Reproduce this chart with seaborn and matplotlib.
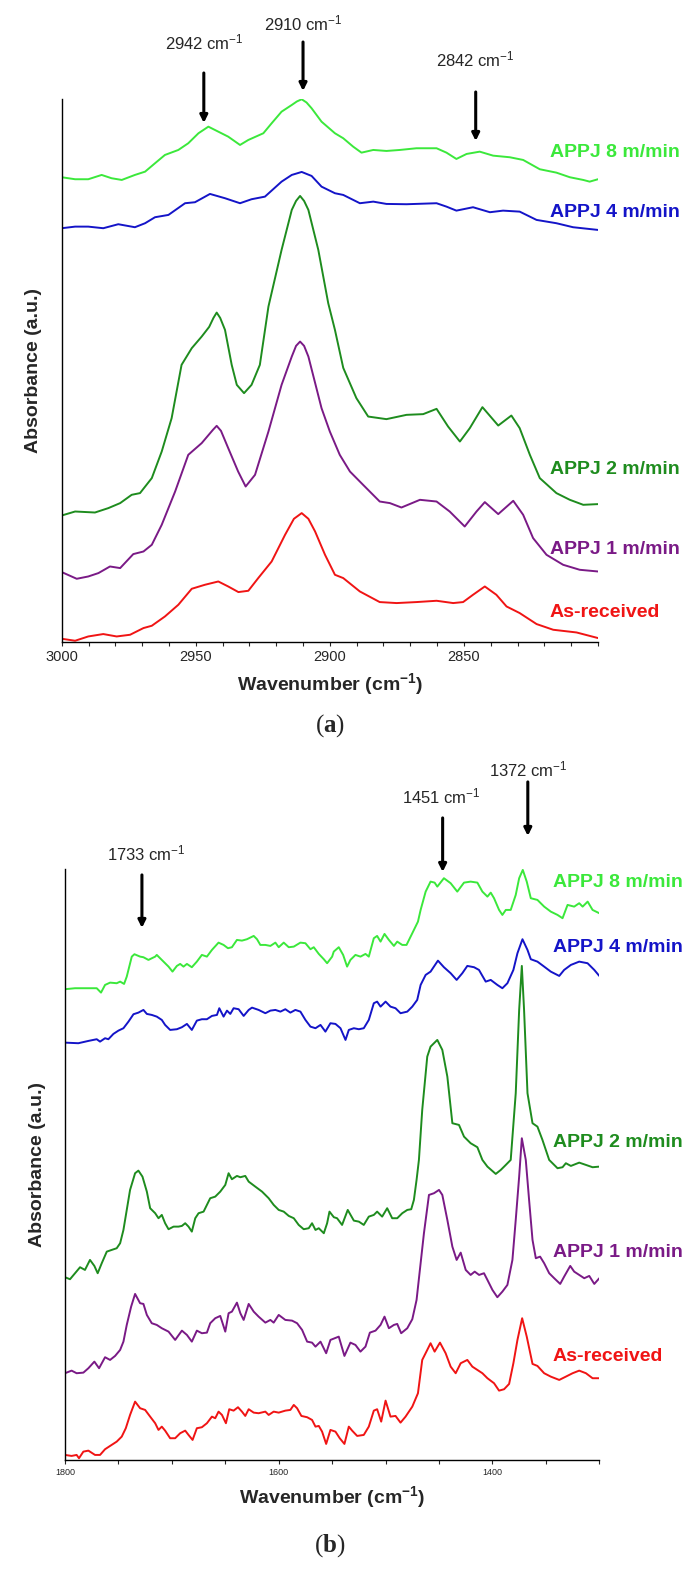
import matplotlib
matplotlib.use("Agg")
import matplotlib.pyplot as plt
import pandas as pd
import seaborn as sns

# ---------------- panel (a): 3000-2800 cm-1 ----------------
a_labels = ["APPJ 8 m/min", "APPJ 4 m/min", "APPJ 2 m/min", "APPJ 1 m/min", "As-received"]

a8_x = [3000, 2995.0, 2990.1, 2985.1, 2981.4, 2977.6, 2972.7, 2968.9, 2965.2, 2961.5, 2956.5, 2952.8, 2949.0,
        2945.3, 2941.6, 2937.9, 2933.5, 2930.4, 2924.8, 2921.7, 2918.0, 2914.2, 2912.3, 2910.5, 2908.7, 2906.8,
        2903.1, 2898.1, 2895.0, 2891.3, 2888.2, 2883.8, 2878.9, 2873.9, 2867.7, 2860.2, 2856.5, 2852.8, 2849.0,
        2844.1, 2839.1, 2832.9, 2827.9, 2821.7, 2815.5, 2810.5, 2805.5, 2803.1, 2800]
a8_y = [464.7, 462.7, 462.7, 467, 463.7, 462, 467, 470.3, 478.7, 487, 492, 498.7, 508.7,
        515.3, 510.3, 505.3, 497, 502, 508.7, 518.7, 530.3, 537, 540.5, 542.7, 539.5, 533.7,
        520.3, 508.7, 503.7, 495.3, 489.3, 492, 491, 492, 493.7, 493.7, 489.3, 483, 488,
        490.3, 486.3, 484.7, 482, 472.7, 469.3, 464.7, 462, 460.3, 462.7]

a4_x = [3000, 2995.0, 2990.1, 2984.5, 2978.9, 2972.7, 2968.9, 2965.2, 2960.2, 2954.0, 2950.3, 2944.7, 2939.1,
        2933.5, 2929.2, 2924.2, 2918.0, 2914.2, 2910.5, 2906.8, 2903.1, 2898.1, 2895.0, 2888.8, 2883.8, 2878.9,
        2871.4, 2860.2, 2856.5, 2852.8, 2846.6, 2840.3, 2835.4, 2829.2, 2822.9, 2815.5, 2809.3, 2800]
a4_y = [413.7, 415.3, 415.3, 413.7, 417.7, 414.7, 418.7, 424.7, 427, 438.7, 439.7, 448, 443.7,
        438.7, 442.7, 445.3, 460.3, 467, 470, 466, 455.3, 448.7, 447, 438.7, 440.3, 438,
        437.7, 438.7, 435.3, 431.3, 434.7, 429.7, 431.3, 430.3, 422, 418.7, 414.7, 412]

a2_x = [3000, 2995.0, 2987.6, 2982.6, 2978.2, 2973.9, 2970.8, 2966.4, 2962.7, 2959.0, 2955.3, 2951.5, 2947.8,
        2945.0, 2943.4, 2942.2, 2940.9, 2939.1, 2936.6, 2934.7, 2932.0, 2929.2, 2926.1, 2922.9, 2918.0, 2914.2,
        2912.6, 2911.1, 2909.6, 2908.0, 2904.3, 2900.6, 2898.1, 2895.0, 2890.1, 2885.7, 2878.9, 2871.4, 2865.2,
        2860.2, 2855.9, 2851.5, 2847.8, 2843.1, 2837.2, 2832.3, 2829.2, 2825.4, 2821.7, 2815.5, 2810.5, 2805.5,
        2800]
a2_y = [126.3, 130.3, 129.3, 133.7, 138.7, 147, 148.7, 163.7, 190.3, 223.7, 277, 293.7, 305.3,
        315, 324, 329.3, 324, 312, 277, 257, 248.7, 257, 277, 335.3, 392, 432,
        441, 446, 441, 432, 392, 338.7, 312, 274, 243.7, 225.3, 222.7, 227, 227.7,
        233, 215.3, 200.3, 213.7, 234.7, 216.3, 226.3, 213.7, 187, 163.7, 148.7, 142, 137,
        137.7]

a1_x = [3000, 2994.4, 2990.1, 2986.3, 2982.0, 2978.2, 2973.3, 2969.5, 2966.4, 2962.7, 2957.7, 2952.8, 2947.8,
        2943.6, 2942.2, 2940.6, 2937.9, 2934.2, 2931.4, 2927.9, 2922.9, 2918.0, 2914.2, 2912.6, 2911.1, 2909.6,
        2908.0, 2903.1, 2900.0, 2896.3, 2892.5, 2887.6, 2881.4, 2877.6, 2873.3, 2866.4, 2860.2, 2855.3, 2849.7,
        2845.3, 2842.2, 2837.2, 2831.6, 2827.9, 2824.2, 2819.2, 2813.0, 2806.8, 2800]
a1_y = [69.7, 63, 65.3, 68.7, 75.3, 73.7, 87.7, 90.3, 97, 117, 150.3, 187, 198.7,
        212, 216, 211, 193.7, 170.3, 155.3, 167, 210.3, 257, 285.3, 296, 300.3, 296,
        285.3, 233.7, 210.3, 187, 170.3, 157, 140.3, 138.7, 134.3, 142, 140.3, 130.3, 115.3,
        130.3, 139.7, 127.7, 141, 127, 103.7, 87, 77, 72, 70.3]

ar_x = [3000, 2995.0, 2990.1, 2984.5, 2979.5, 2974.5, 2969.5, 2966.4, 2961.5, 2956.5, 2951.5, 2946.6, 2941.6,
        2937.9, 2934.1, 2930.4, 2926.7, 2921.7, 2916.7, 2913.4, 2910.5, 2908.0, 2905.5, 2901.8, 2898.1, 2895.0,
        2888.8, 2881.4, 2875.1, 2867.7, 2860.2, 2854.0, 2850.3, 2846.6, 2842.2, 2837.9, 2834.1, 2829.2, 2822.9,
        2816.7, 2808.0, 2800]
ar_y = [3, 1, 5.3, 7.7, 5.3, 7, 13.7, 16, 25.3, 37, 53, 57, 60.3,
        55.3, 49.7, 51, 63.7, 80.3, 107, 123, 128.7, 123, 110.3, 87, 67, 63.7,
        50.3, 39.7, 38.7, 39.7, 41, 38.7, 39.7, 47, 55.3, 47, 35.3, 28.7, 17.7,
        12, 9.3, 3.7]

a_label_y = [489, 429, 172, 92, 29]
a_peaks = ["2942", "2910", "2842"]
a_arrow_x = [2947.0, 2910.0, 2845.6]
a_arrow_top = [569, 600, 550]
a_arrow_tip = [519, 551, 501]
a_text_y = [600, 619, 583]

# ---------------- panel (b): 1800-1300 cm-1 ----------------
b8_x = [1800, 1790.6, 1781.3, 1770.3, 1766.3, 1762.5, 1757.8, 1751.6, 1748.4, 1744.7, 1742.2, 1737.5, 1735.0,
        1729.7, 1726.6, 1721.9, 1715.6, 1714.1, 1707.8, 1703.1, 1699.4, 1695.3, 1692.2, 1689.1, 1685.9, 1681.3,
        1676.6, 1671.9, 1667.2, 1662.5, 1656.3, 1651.6, 1647.5, 1643.8, 1639.1, 1634.4, 1629.7, 1623.4, 1620.3,
        1617.2, 1612.5, 1607.8, 1603.1, 1600.0, 1595.3, 1590.6, 1585.9, 1579.7, 1575.0, 1570.3, 1567.2, 1562.5,
        1557.8, 1554.7, 1550.0, 1548.5, 1543.8, 1539.7, 1536.0, 1532.9, 1528.2, 1523.5, 1518.8, 1515.7, 1511.0,
        1507.9, 1504.7, 1501.0, 1496.9, 1492.2, 1489.1, 1484.4, 1480.4, 1475.0, 1469.7, 1467.2, 1462.5, 1457.9,
        1454.1, 1451.6, 1445.4, 1439.1, 1432.9, 1426.6, 1420.4, 1414.1, 1409.4, 1404.7, 1401.6, 1398.5, 1393.8,
        1390.7, 1387.5, 1382.9, 1378.2, 1375.0, 1371.6, 1367.9, 1364.1, 1357.9, 1351.6, 1345.4, 1339.1, 1334.4,
        1329.7, 1323.5, 1318.8, 1315.6, 1310.9, 1306.3, 1300.0]
b8_y = [470.7, 471.7, 471.7, 471.7, 467.3, 475, 477.3, 476.7, 478.3, 476, 483.3, 503.3, 505.7,
        503.3, 502.7, 500, 503.3, 505, 498.3, 493.3, 488.3, 494, 496, 493.3, 496, 492.7,
        498.3, 505, 503.3, 510, 517.3, 515, 511.7, 512.7, 520, 519.3, 520.7, 524, 520.7,
        515, 515, 514, 517.3, 512.7, 517.3, 512.7, 513.3, 517.3, 516.7, 510.7, 512.7, 506,
        500.7, 496.7, 503.3, 508.3, 512.7, 505, 493.3, 500, 505, 503.3, 506, 503.3, 521.7,
        524, 518.3, 526, 520, 514, 518.3, 515, 515, 526.7, 538.3, 550, 568.3, 578.3,
        577.3, 573.3, 581.7, 576.7, 568.3, 577.3, 578.3, 577.3, 568.3, 563.3, 567.3, 561.7, 550,
        545, 550, 550, 565, 581.7, 590, 578.3, 561.7, 560, 553.3, 548.3, 545, 541.7,
        555, 553.3, 556.7, 553.3, 558.3, 550, 546.7]

b4_x = [1800, 1787.5, 1778.1, 1770.3, 1767.2, 1762.5, 1759.4, 1754.7, 1750.0, 1745.3, 1740.6, 1735.9, 1731.3,
        1726.6, 1723.4, 1718.8, 1714.1, 1709.4, 1706.3, 1701.6, 1695.3, 1690.6, 1685.9, 1681.3, 1676.6, 1671.9,
        1667.2, 1662.5, 1657.8, 1655.6, 1651.6, 1648.4, 1645.3, 1642.2, 1637.5, 1632.8, 1628.1, 1625.0, 1618.8,
        1612.5, 1607.8, 1603.1, 1598.4, 1593.8, 1589.1, 1584.4, 1579.7, 1575.0, 1570.3, 1565.6, 1560.9, 1556.3,
        1551.6, 1546.9, 1542.2, 1537.5, 1534.4, 1529.7, 1525.0, 1520.4, 1515.7, 1511.0, 1507.9, 1504.7, 1500.0,
        1495.4, 1490.7, 1486.0, 1479.7, 1475.0, 1470.4, 1467.2, 1462.5, 1457.9, 1451.0, 1445.4, 1439.1, 1433.5,
        1428.2, 1423.5, 1417.2, 1412.6, 1406.3, 1401.6, 1395.4, 1390.7, 1386.0, 1380.4, 1376.6, 1371.9, 1367.2,
        1364.1, 1357.9, 1351.6, 1345.4, 1337.5, 1332.9, 1326.6, 1318.8, 1311.0, 1304.7, 1300.0]
b4_y = [417.3, 416.7, 419, 420.7, 418.3, 421.7, 420.7, 426, 429.3, 431.7, 438.3, 445.7, 447.3,
        450, 446, 445, 443.3, 440, 435, 430, 430.7, 432.7, 436, 430, 439.3, 440.7,
        440.7, 444, 445, 451.7, 443.3, 449.3, 446, 451.7, 450.7, 444, 450, 452.3, 450,
        446.7, 449.3, 450, 448.3, 450.7, 447.3, 450, 448.3, 440, 433.3, 431.7, 435, 428.3,
        436.7, 436, 431.7, 420, 430, 431.7, 430.7, 431.7, 440, 456.7, 458.3, 453.3, 458.3,
        453.3, 451.7, 446.7, 448.3, 453.3, 460, 475, 485, 488.3, 499.3, 492.7, 486.7, 480,
        486.7, 494, 492.7, 490, 478.3, 480, 475, 471.7, 476.7, 490, 506.7, 520.7, 510,
        500.7, 498.3, 493.3, 488.3, 484, 490, 495, 498.3, 496.7, 490, 484]

b2_x = [1800, 1795.3, 1790.6, 1785.9, 1781.3, 1776.6, 1772.5, 1769.4, 1765.6, 1760.9, 1756.3, 1751.6, 1748.4,
        1745.3, 1742.2, 1739.1, 1734.4, 1731.3, 1727.5, 1723.4, 1720.3, 1715.6, 1712.5, 1709.4, 1706.3, 1703.1,
        1698.4, 1693.8, 1690.6, 1687.5, 1684.4, 1681.3, 1678.1, 1675.0, 1670.3, 1667.2, 1664.1, 1659.4, 1654.7,
        1650.0, 1646.9, 1643.8, 1639.1, 1635.9, 1631.3, 1628.1, 1621.9, 1615.6, 1609.4, 1604.7, 1600.0, 1595.3,
        1590.6, 1585.9, 1581.3, 1576.6, 1571.9, 1568.8, 1565.6, 1562.5, 1557.8, 1554.7, 1552.5, 1548.4, 1545.4,
        1540.7, 1535.4, 1529.7, 1525.0, 1520.4, 1515.7, 1511.0, 1507.9, 1503.2, 1498.5, 1493.8, 1489.1, 1484.4,
        1479.7, 1476.0, 1473.5, 1471.0, 1468.8, 1465.7, 1461.0, 1457.9, 1451.6, 1446.9, 1442.2, 1437.5, 1431.3,
        1426.6, 1420.4, 1414.1, 1409.4, 1404.7, 1396.9, 1392.2, 1387.5, 1382.9, 1378.2, 1375.0, 1372.5, 1370.4,
        1367.2, 1362.5, 1357.9, 1353.2, 1346.9, 1339.1, 1334.4, 1331.3, 1326.6, 1318.8, 1312.5, 1306.3, 1300.0]
b2_y = [182.7, 180.7, 186.7, 192.7, 190, 200, 194, 186.7, 196.7, 208.3, 210, 211.7, 216.7,
        230, 250, 270, 286.7, 289.3, 283.3, 268.3, 251.7, 246.7, 241.7, 245, 236.7, 230.7,
        233.3, 233.3, 234, 236.7, 233.3, 228.3, 241.7, 246.7, 248.3, 255, 261.7, 263.3, 268.3,
        275, 286.7, 280.7, 284, 282.7, 284, 278.3, 273.3, 268.3, 261.7, 255, 250, 248.3,
        244, 241.7, 235, 230.7, 231.7, 236.7, 230, 231.7, 226.7, 236.7, 248.3, 242.7, 241.7,
        235, 250, 239.3, 238.3, 235, 243.3, 245, 248.3, 243.3, 251.7, 241.7, 241.7, 246.7,
        250, 250.7, 260, 280, 300, 350, 403.3, 413.3, 420, 410, 383.3, 336.7, 335,
        323.3, 316.7, 312.7, 300, 293.3, 286, 290, 295, 300, 366.7, 450, 494, 450,
        366.7, 336.7, 333.3, 320, 300, 291.7, 292.7, 296.7, 294, 297.3, 295, 292.7, 293.3]

b1_x = [1800, 1793.8, 1789.1, 1782.8, 1778.1, 1772.5, 1768.1, 1762.5, 1757.8, 1753.1, 1748.4, 1745.3, 1742.2,
        1738.1, 1734.4, 1729.7, 1726.6, 1723.4, 1718.8, 1714.1, 1709.4, 1703.1, 1696.9, 1690.6, 1685.9, 1681.3,
        1676.6, 1671.9, 1667.2, 1664.1, 1659.4, 1654.7, 1650.0, 1646.9, 1643.8, 1639.1, 1635.9, 1632.8, 1628.1,
        1623.4, 1618.8, 1612.5, 1607.8, 1604.7, 1600.0, 1593.8, 1587.5, 1582.8, 1578.1, 1573.4, 1568.8, 1565.6,
        1560.9, 1555.6, 1551.6, 1543.8, 1538.5, 1532.9, 1528.2, 1523.5, 1518.8, 1514.7, 1509.4, 1504.7, 1501.0,
        1496.9, 1492.2, 1489.1, 1485.4, 1479.7, 1475.0, 1471.0, 1467.9, 1464.1, 1459.4, 1454.7, 1450.0, 1446.9,
        1442.2, 1437.5, 1433.5, 1429.7, 1425.0, 1420.4, 1416.6, 1412.5, 1407.9, 1404.7, 1400.0, 1395.4, 1390.7,
        1386.0, 1381.3, 1378.2, 1375.0, 1372.5, 1368.8, 1365.7, 1362.5, 1359.4, 1355.4, 1351.6, 1346.9, 1342.2,
        1336.6, 1332.9, 1327.2, 1323.5, 1318.8, 1314.1, 1309.4, 1304.7, 1300.0]
b1_y = [86.7, 89.3, 86.7, 87.3, 91.7, 98.3, 91.7, 102.7, 100, 104, 110, 118.3, 135,
        153.3, 166, 156.7, 156, 145, 136.7, 135, 131.7, 128.3, 120, 129.3, 125, 118.3,
        129.3, 126.7, 127.3, 136.7, 141.7, 144, 128.3, 146.7, 148.3, 157.3, 146.7, 140, 156,
        148.3, 143.3, 137.3, 140, 137.3, 145, 140, 139.3, 136.7, 130, 118.3, 117.3, 113.3,
        118.3, 106.7, 120, 123.3, 104, 117.3, 115, 108.3, 113.3, 127.3, 129.3, 135, 143.3,
        131.7, 135, 136, 126.7, 131.7, 140.7, 160, 190, 226.7, 265, 266.7, 270, 265,
        240, 213.3, 200, 207.3, 190, 185, 188.3, 185, 186.7, 180, 170, 162.7, 168.3,
        175, 200, 240, 283.3, 321.7, 300, 260, 220, 201.7, 203.3, 196.7, 186.7, 181.7,
        176, 183.3, 194, 188.3, 185, 181.7, 184, 176, 181.7]

br_x = [1800, 1793.8, 1789.1, 1786.9, 1782.8, 1778.1, 1771.9, 1767.2, 1762.5, 1757.8, 1751.6, 1746.9, 1743.1,
        1739.1, 1734.4, 1729.7, 1725.0, 1720.3, 1715.6, 1712.5, 1709.4, 1706.3, 1701.6, 1696.9, 1692.2, 1687.5,
        1684.4, 1680.6, 1676.6, 1671.9, 1667.2, 1662.5, 1659.4, 1656.3, 1653.1, 1649.4, 1646.3, 1642.2, 1638.1,
        1634.4, 1631.3, 1628.1, 1623.4, 1618.8, 1612.5, 1609.4, 1604.7, 1600.0, 1593.8, 1589.1, 1585.9, 1582.8,
        1578.8, 1573.4, 1568.8, 1565.6, 1562.5, 1559.4, 1555.6, 1551.6, 1546.9, 1542.9, 1538.5, 1534.4, 1531.3,
        1526.6, 1520.4, 1515.7, 1511.0, 1507.9, 1504.1, 1500.0, 1495.4, 1490.7, 1486.0, 1481.3, 1475.0, 1469.7,
        1465.7, 1461.0, 1457.9, 1454.1, 1449.1, 1443.8, 1439.1, 1434.4, 1429.7, 1423.5, 1418.8, 1414.1, 1409.4,
        1404.7, 1398.5, 1393.8, 1389.1, 1384.4, 1380.4, 1376.6, 1372.2, 1367.9, 1362.5, 1357.9, 1351.6, 1345.4,
        1337.5, 1331.3, 1325.0, 1318.8, 1312.5, 1306.3, 1300.0]
br_y = [5, 4, 5, 1.7, 8.3, 9.3, 5, 5, 10.7, 14, 18.3, 23.3, 31.7,
        45, 58.3, 51.7, 50, 43.3, 36.7, 30, 33.3, 29.3, 21.7, 21.7, 26.7, 29.3,
        25, 20, 31.7, 32.7, 36.7, 43.3, 41.7, 48.3, 45, 36.7, 50.7, 49.3, 52.7,
        48.3, 44, 50.7, 47.3, 46.7, 48.3, 45, 48.3, 47.3, 49.3, 50, 55, 51.7,
        44, 42.7, 40, 33.3, 34, 28.3, 16, 30, 28.3, 21.7, 16, 33.3, 29.3,
        24, 25, 33.3, 49.3, 50.7, 38.3, 59.3, 43.3, 44, 37.3, 43.3, 53.3, 66.7,
        100, 110, 116.7, 108.3, 117.3, 106.7, 93.3, 86.7, 96.7, 100, 93.3, 90, 86.7,
        81.7, 76.7, 69.3, 70.7, 76, 96.7, 120, 141.7, 123.3, 96, 94, 86.7, 83.3,
        80, 83.3, 86.7, 89.3, 86.7, 81.7, 81.7]

b_label_y = [577, 512, 317, 207, 103]
b_peaks = ["1733", "1451", "1372"]
b_arrow_x = [1728.0, 1446.6, 1366.9]
b_arrow_top = [585, 642, 678]
b_arrow_tip = [532, 588, 624]
b_text_y = [606, 663, 690]
b_text_x = [1724.0, 1447.5, 1366.9]

colors = ["#3be83b", "#1414c8", "#1e8c1e", "#7a1a86", "#f01414"]

sns.set_style("white")
plt.rcParams["font.family"] = ["Liberation Sans", "DejaVu Sans"]
plt.rcParams["mathtext.default"] = "regular"
plt.rcParams["mathtext.fontset"] = "custom"
plt.rcParams["mathtext.bf"] = "Liberation Serif:bold"


def long_frame(xs, ys, labels):
    parts = []
    for x, y, lab in zip(xs, ys, labels):
        parts.append(pd.DataFrame({"wn": x, "abs": y, "sample": lab}))
    return pd.concat(parts, ignore_index=True)


def draw_panel(ax, df, xlim, ylim, ticks, ticklabels, tick_fs, label_x, label_y,
               peaks, arrow_x, arrow_top, arrow_tip, text_x, text_y):
    sns.lineplot(data=df, x="wn", y="abs", hue="sample", palette=colors, estimator=None,
                 sort=False, linewidth=1.4, legend=False, ax=ax)
    ax.set_xlim(*xlim)
    ax.set_ylim(*ylim)
    ax.set_xticks(ticks)
    ax.set_xticklabels(ticklabels, fontsize=tick_fs)
    ax.set_yticks([])
    ax.tick_params(axis="x", direction="out", length=3, width=0.8, bottom=True, pad=3)
    for side in ["top", "right"]:
        ax.spines[side].set_visible(False)
    for side in ["left", "bottom"]:
        ax.spines[side].set_color("black")
        ax.spines[side].set_linewidth(1.0)
    ax.set_xlabel("Wavenumber (cm$^{-1}$)", fontsize=14, fontweight="bold", labelpad=5)
    ax.set_ylabel("Absorbance (a.u.)", fontsize=14, fontweight="bold", labelpad=14)

    for lab, ly, c in zip(a_labels, label_y, colors):
        ax.text(label_x, ly, lab, color=c, fontsize=14, fontweight="bold",
                ha="left", va="center", clip_on=False)

    for p, xa, top, tip, xt, yt in zip(peaks, arrow_x, arrow_top, arrow_tip, text_x, text_y):
        ax.annotate("", xy=(xa, tip), xytext=(xa, top), annotation_clip=False,
                    arrowprops=dict(arrowstyle="-|>", color="black", lw=2.2, mutation_scale=11,
                                    shrinkA=0, shrinkB=0))
        ax.text(xt, yt, p + " cm$^{-1}$", fontsize=12, ha="center", va="center", clip_on=False)


fig = plt.figure(figsize=(6.98, 15.71), dpi=100)
ax_a = fig.add_axes([0.0884, 0.5915, 0.7683, 0.3455])
ax_b = fig.add_axes([0.0931, 0.0707, 0.7655, 0.3762])

df_a = long_frame([a8_x, a4_x, a2_x, a1_x, ar_x], [a8_y, a4_y, a2_y, a1_y, ar_y], a_labels)
df_b = long_frame([b8_x, b4_x, b2_x, b1_x, br_x], [b8_y, b4_y, b2_y, b1_y, br_y], a_labels)

a_ticks = list(range(3000, 2799, -10))
a_ticklabels = [str(t) if t % 50 == 0 and t > 2800 else "" for t in a_ticks]
draw_panel(ax_a, df_a, (3000, 2800), (0, 543), a_ticks, a_ticklabels, 10.5, 2818.0, a_label_y,
           a_peaks, a_arrow_x, a_arrow_top, a_arrow_tip, a_arrow_x, a_text_y)

b_ticks = list(range(1800, 1299, -50))
b_ticklabels = [str(t) if t % 200 == 0 else "" for t in b_ticks]
draw_panel(ax_b, df_b, (1800, 1300), (0, 591), b_ticks, b_ticklabels, 6.5, 1343.4, b_label_y,
           b_peaks, b_arrow_x, b_arrow_top, b_arrow_tip, b_text_x, b_text_y)

fig.text(0.473, 1 - 726 / 1571, r"($\mathbf{a}$)", ha="center", va="center", fontsize=18,
         family="Liberation Serif")
fig.text(0.473, 1 - 1546 / 1571, r"($\mathbf{b}$)", ha="center", va="center", fontsize=18,
         family="Liberation Serif")

fig.savefig("out.png", dpi=100)
